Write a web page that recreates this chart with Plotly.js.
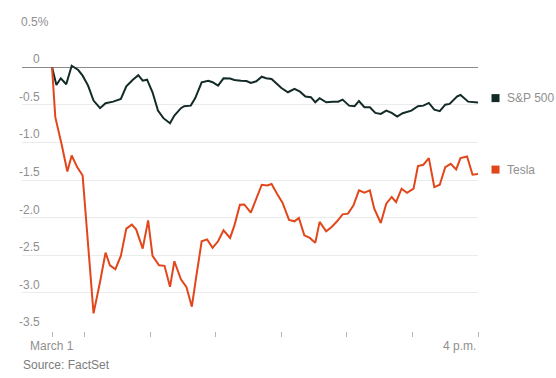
<!DOCTYPE html>
<html>
<head>
<meta charset="utf-8">
<script src="https://cdn.plot.ly/plotly-3.0.1.min.js"></script>
<style>html,body{margin:0;padding:0;background:#fff;}#chart{width:556px;height:378px;}</style>
</head>
<body>
<div id="chart"></div>
<script>
// Minutes after the 9:30 a.m. open, March 1
var spTimes = [0,4,8,13,18,24,28,33,38,44,49,56,63,68,74,79,83,87,92,97,102,108,112,118,121,127,131,137,143,147,152,157,163,167,173,178,182,187,192,196,201,205,210,216,222,227,232,237,241,245,251,257,262,266,272,277,281,286,291,296,301,306,311,316,321,329,335,340,345,350,355,360,364,371,374,381,386,390];
var spValues = [0,-0.235,-0.146,-0.226,0.021,-0.036,-0.111,-0.244,-0.443,-0.544,-0.478,-0.457,-0.421,-0.252,-0.165,-0.105,-0.178,-0.165,-0.332,-0.576,-0.677,-0.744,-0.643,-0.544,-0.518,-0.510,-0.412,-0.199,-0.178,-0.199,-0.244,-0.146,-0.150,-0.169,-0.178,-0.182,-0.208,-0.186,-0.125,-0.146,-0.155,-0.208,-0.275,-0.332,-0.288,-0.324,-0.390,-0.398,-0.465,-0.412,-0.465,-0.457,-0.457,-0.430,-0.510,-0.518,-0.448,-0.531,-0.531,-0.607,-0.620,-0.576,-0.607,-0.656,-0.611,-0.576,-0.518,-0.510,-0.474,-0.563,-0.584,-0.497,-0.487,-0.385,-0.368,-0.457,-0.465,-0.470];

var tsTimes = [0,3,9,14,18,23,28,33,38,44,49,53,58,63,68,73,77,83,88,92,98,103,108,112,118,123,128,132,137,142,147,152,157,163,167,172,176,182,187,192,197,201,206,211,217,222,226,231,236,241,245,251,256,261,266,271,276,281,286,291,295,301,306,311,315,320,325,331,335,340,345,350,355,360,365,370,374,380,385,390];
var tsValues = [0,-0.664,-1.041,-1.386,-1.174,-1.328,-1.440,-2.369,-3.276,-2.855,-2.466,-2.635,-2.688,-2.510,-2.147,-2.094,-2.157,-2.413,-2.037,-2.510,-2.635,-2.643,-2.922,-2.582,-2.821,-2.922,-3.187,-2.789,-2.316,-2.290,-2.404,-2.316,-2.170,-2.271,-2.104,-1.829,-1.825,-1.935,-1.749,-1.563,-1.572,-1.554,-1.683,-1.802,-2.032,-2.050,-2.005,-2.236,-2.271,-2.337,-2.058,-2.183,-2.125,-2.050,-1.957,-1.948,-1.838,-1.639,-1.669,-1.639,-1.882,-2.072,-1.815,-1.726,-1.793,-1.616,-1.670,-1.616,-1.315,-1.297,-1.209,-1.594,-1.563,-1.328,-1.284,-1.360,-1.209,-1.187,-1.430,-1.421];

var seriesNames = ["S&P 500", "Tesla"];
var seriesColors = ["#132b28", "#e2461b"];

var yTickVals = [0.5,0,-0.5,-1.0,-1.5,-2.0,-2.5,-3.0,-3.5];
var yTickText = ["0.5%","0","-0.5","-1.0","-1.5","-2.0","-2.5","-3.0","-3.5"];

var xTickVals = [0,30,90,150,210,270,330,390];
var xLabelVals = [0,390];
var xLabelText = ["March 1","4 p.m."];
var sourceText = "Source: FactSet";

var FONT = "Liberation Sans, Arial, Helvetica, sans-serif";
var GRAY = "#8f8f8f";

var traces = [
  {x: spTimes, y: spValues, name: seriesNames[0], type: "scatter", mode: "lines",
   line: {color: seriesColors[0], width: 2}, hoverinfo: "skip"},
  {x: tsTimes, y: tsValues, name: seriesNames[1], type: "scatter", mode: "lines",
   line: {color: seriesColors[1], width: 2}, hoverinfo: "skip"}
];

var annotations = [];
yTickVals.forEach(function(v, i){
  var t = yTickText[i];
  annotations.push({xref: "paper", yref: "y", x: 0.044, y: v, xanchor: "right", yanchor: "middle",
    yshift: 8, xshift: t.indexOf("%") >= 0 ? 9 : 0, showarrow: false, text: t,
    font: {family: FONT, size: 12, color: GRAY}});
});
xLabelVals.forEach(function(v, i){
  annotations.push({xref: "x", yref: "paper", x: v, y: -0.049, xanchor: i === 0 ? "center" : "right",
    yanchor: "middle", showarrow: false, text: xLabelText[i],
    font: {family: FONT, size: 12, color: GRAY}});
});
annotations.push({xref: "paper", yref: "paper", x: -0.002, y: -0.112, xanchor: "left", yanchor: "middle",
  showarrow: false, text: sourceText, font: {family: FONT, size: 12, color: "#7d7d7d"}});

var shapes = [];
var lastVals = [spValues[spValues.length-1], tsValues[tsValues.length-1]];
lastVals.forEach(function(v, i){
  shapes.push({type: "rect", xref: "paper", yref: "y", xsizemode: "pixel", ysizemode: "pixel",
    xanchor: 1.0384, yanchor: v, x0: -4, x1: 4, y0: 0.5, y1: 8.5,
    fillcolor: seriesColors[i], line: {width: 0}});
  annotations.push({xref: "paper", yref: "y", x: 1.06, y: v, yshift: 4.5, xanchor: "left", yanchor: "middle",
    showarrow: false, text: seriesNames[i], font: {family: FONT, size: 12, color: GRAY}});
});

var layout = {
  width: 556, height: 378,
  margin: {l: 22, r: 78, t: 29, b: 47, pad: 0},
  paper_bgcolor: "#ffffff", plot_bgcolor: "#ffffff",
  showlegend: false,
  xaxis: {range: [-27.5, 390], tickmode: "array", tickvals: xTickVals, showticklabels: false,
    ticks: "outside", ticklen: 5, tickcolor: "#b5b5b5", tickwidth: 1,
    showgrid: false, zeroline: false, showline: false, fixedrange: true},
  yaxis: {range: [-3.51, 0.51], tickmode: "array", tickvals: yTickVals, showticklabels: false,
    showgrid: true, gridcolor: "#ebebeb", gridwidth: 1,
    zeroline: true, zerolinecolor: "#8a8a8a", zerolinewidth: 1.5, showline: false, fixedrange: true},
  annotations: annotations,
  shapes: shapes
};

Plotly.newPlot("chart", traces, layout, {staticPlot: true, displayModeBar: false});
</script>
</body>
</html>
